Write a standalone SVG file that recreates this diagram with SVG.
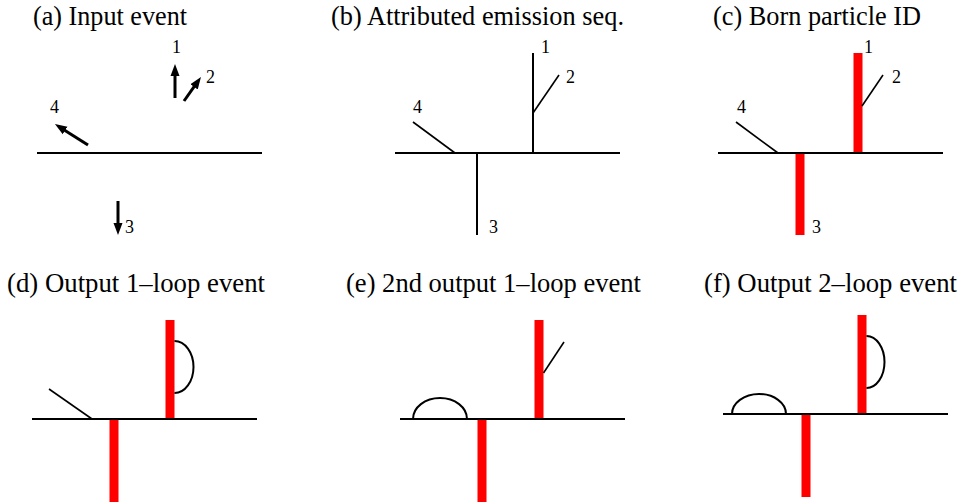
<svg xmlns="http://www.w3.org/2000/svg" width="962" height="502" viewBox="0 0 962 502" font-family="'Liberation Serif', 'Times New Roman', Times, serif">
<style>
.title{font-size:26.5px;fill:#000}
.lbl{font-size:18px;fill:#000}
.ln{stroke:#000;stroke-width:2;fill:none}
.thin{stroke:#000;stroke-width:1.6;fill:none}
.arr{stroke:#000;stroke-width:3;fill:none;marker-end:url(#ah)}
.bar{fill:#ff0000}
</style>
<defs>
<marker id="ah" markerUnits="userSpaceOnUse" markerWidth="13" markerHeight="10" refX="2" refY="5" orient="auto">
<path d="M0,0.5 L12,5 L0,9.5 z" fill="#000"/>
</marker>
</defs>
<rect width="962" height="502" fill="#fff"/>

<g id="panel-a">
<text class="title" x="33" y="25" textLength="154" lengthAdjust="spacingAndGlyphs">(a) Input event</text>
<g id="connectors-a">
<line class="ln" x1="37" y1="153" x2="262" y2="153"/>
<line class="arr" x1="175" y1="98" x2="175" y2="74"/>
<line class="arr" x1="184" y1="101" x2="195.2" y2="85.2"/>
<line class="arr" x1="88" y1="145" x2="63.4" y2="129.4"/>
<line class="arr" x1="118" y1="201" x2="118" y2="225"/>
</g>
<text class="lbl" x="172" y="53">1</text>
<text class="lbl" x="206" y="83">2</text>
<text class="lbl" x="50" y="113">4</text>
<text class="lbl" x="125" y="233">3</text>
</g>

<g id="panel-b">
<text class="title" x="331" y="25" textLength="293" lengthAdjust="spacingAndGlyphs">(b) Attributed emission seq.</text>
<g id="connectors-b">
<line class="ln" x1="395" y1="153" x2="620" y2="153"/>
<line class="ln" x1="533" y1="53" x2="533" y2="153"/>
<line class="thin" x1="533" y1="113" x2="559" y2="75"/>
<line class="thin" x1="413" y1="122" x2="455" y2="153"/>
<line class="ln" x1="477" y1="153" x2="477" y2="235"/>
</g>
<text class="lbl" x="541" y="53">1</text>
<text class="lbl" x="566" y="83">2</text>
<text class="lbl" x="413" y="113">4</text>
<text class="lbl" x="489" y="233">3</text>
</g>

<g id="panel-c">
<text class="title" x="713" y="25" textLength="208" lengthAdjust="spacingAndGlyphs">(c) Born particle ID</text>
<g id="connectors-c">
<rect class="bar" x="853.5" y="53" width="9" height="100"/>
<rect class="bar" x="795.5" y="153" width="9" height="82"/>
<line class="ln" x1="718" y1="153" x2="943" y2="153"/>
<line class="thin" x1="862" y1="106" x2="883" y2="75"/>
<line class="thin" x1="736" y1="122" x2="778" y2="153"/>
</g>
<text class="lbl" x="864" y="53">1</text>
<text class="lbl" x="892" y="83">2</text>
<text class="lbl" x="737" y="113">4</text>
<text class="lbl" x="812" y="233">3</text>
</g>

<g id="panel-d">
<text class="title" x="7" y="292" textLength="258" lengthAdjust="spacingAndGlyphs">(d) Output 1–loop event</text>
<g id="connectors-d">
<rect class="bar" x="165.5" y="320" width="9" height="99"/>
<rect class="bar" x="109.5" y="419" width="9" height="83"/>
<line class="ln" x1="32" y1="419" x2="257" y2="419"/>
<path class="ln" d="M174.5,341 A19,26 0 0 1 174.5,393"/>
<line class="thin" x1="49" y1="389" x2="92" y2="419"/>
</g>
</g>

<g id="panel-e">
<text class="title" x="346" y="292" textLength="295" lengthAdjust="spacingAndGlyphs">(e) 2nd output 1–loop event</text>
<g id="connectors-e">
<rect class="bar" x="534.5" y="320" width="9" height="99"/>
<rect class="bar" x="477.5" y="419" width="9" height="83"/>
<line class="ln" x1="400" y1="419" x2="625" y2="419"/>
<line class="thin" x1="543.5" y1="373" x2="564" y2="342"/>
<path class="ln" d="M413,419 A27,21 0 0 1 467,419"/>
</g>
</g>

<g id="panel-f">
<text class="title" x="704" y="292" textLength="253" lengthAdjust="spacingAndGlyphs">(f) Output 2–loop event</text>
<g id="connectors-f">
<rect class="bar" x="857.5" y="315" width="9" height="99"/>
<rect class="bar" x="801.5" y="414" width="9" height="83"/>
<line class="ln" x1="723" y1="414" x2="948" y2="414"/>
<path class="ln" d="M866.5,336 A18,26 0 0 1 866.5,388"/>
<path class="ln" d="M732,414 A27,20 0 0 1 786,414"/>
</g>
</g>
</svg>
